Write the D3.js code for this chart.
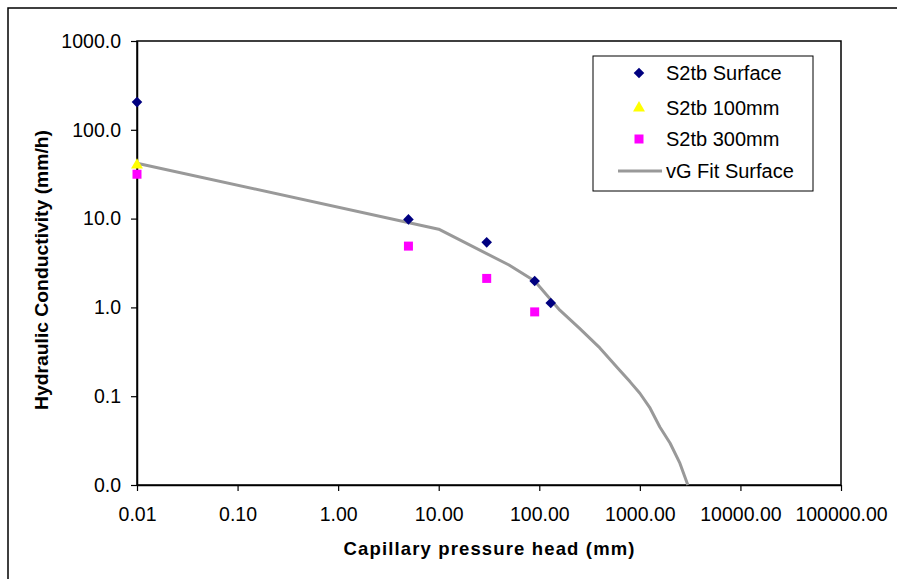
<!DOCTYPE html>
<html>
<head>
<meta charset="utf-8">
<script src="https://cdn.jsdelivr.net/npm/d3@7"></script>
<style>
body { margin: 0; background: #fff; }
svg { font-family: "Liberation Sans", Arial, sans-serif; }
</style>
</head>
<body>
<div id="chart"></div>
<script>
// measured points (head in mm, conductivity in mm/h)
var surfaceH = [0.01, 5, 30, 90, 130];
var surfaceK = [205, 9.8, 5.4, 1.98, 1.12];
var mm100H = [0.01];
var mm100K = [40];
var mm300H = [0.01, 5, 30, 90];
var mm300K = [31.6, 4.9, 2.12, 0.89];

// van Genuchten fit
var fitH = [0.01, 10, 50, 90, 160, 250, 400, 630, 800, 1000, 1250, 1580, 2000, 2500, 3000];
var fitK = [42, 7.6, 3.0, 1.98, 0.93, 0.585, 0.35, 0.196, 0.145, 0.108, 0.075, 0.045, 0.0295, 0.0176, 0.01];

var xTicks = [0.01, 0.1, 1, 10, 100, 1000, 10000, 100000];
var yTicks = [0.01, 0.1, 1, 10, 100, 1000];

var legendNames = ["S2tb Surface", "S2tb 100mm", "S2tb 300mm", "vG Fit Surface"];

var W = 897, H = 579;
var margins = { top: 41, right: 56, bottom: 94, left: 137 };
var width = W - margins.left - margins.right;
var height = H - margins.top - margins.bottom;

var svg = d3.select('#chart').append('svg')
  .attr('width', W)
  .attr('height', H);

// outer frame of the chart (only left/top visible in picture)
svg.append('rect')
  .attr('x', 8).attr('y', 8)
  .attr('width', 1000).attr('height', 1000)
  .attr('fill', 'none')
  .attr('stroke', '#000')
  .attr('stroke-width', 1.5);

var g = svg.append('g')
  .attr('transform', 'translate(' + margins.left + ',' + margins.top + ')');

var x = d3.scaleLog().domain([0.01, 100000]).range([0, width]);
var y = d3.scaleLog().domain([0.01, 1000]).range([height, 0]);

// plot area box
g.append('rect')
  .attr('width', width)
  .attr('height', height)
  .attr('fill', '#fff')
  .attr('stroke', '#000')
  .attr('stroke-width', 1.5);

var xaxis = g.append('g')
  .attr('transform', 'translate(0,' + height + ')')
  .call(d3.axisBottom(x).tickValues(xTicks).tickFormat(d3.format('.2f'))
    .tickSize(6).tickSizeOuter(0).tickPadding(16));

var yaxis = g.append('g')
  .call(d3.axisLeft(y).tickValues(yTicks).tickFormat(d3.format('.1f'))
    .tickSize(6).tickSizeOuter(0).tickPadding(10));

g.selectAll('.domain').attr('stroke', '#000').attr('stroke-width', 1.5);
g.selectAll('.tick line').attr('stroke', '#000').attr('stroke-width', 1.2);
g.selectAll('.tick text')
  .attr('fill', '#000')
  .style('font-size', '19.5px')
  .style('font-family', '"Liberation Sans", Arial, sans-serif');

// axis titles
svg.append('text')
  .attr('x', margins.left + width / 2)
  .attr('y', 555)
  .attr('text-anchor', 'middle')
  .attr('textLength', 291)
  .attr('lengthAdjust', 'spacing')
  .style('font-size', '18.5px')
  .style('font-weight', 'bold')
  .text('Capillary pressure head (mm)');

svg.append('text')
  .attr('transform', 'translate(48,270) rotate(-90)')
  .attr('text-anchor', 'middle')
  .attr('textLength', 280)
  .attr('lengthAdjust', 'spacingAndGlyphs')
  .style('font-size', '18.5px')
  .style('font-weight', 'bold')
  .text('Hydraulic Conductivity (mm/h)');

// fit line
var line = d3.line()
  .x(function (d) { return x(d[0]); })
  .y(function (d) { return y(d[1]); });

g.append('path')
  .datum(d3.zip(fitH, fitK))
  .attr('d', line)
  .attr('fill', 'none')
  .attr('stroke', '#999999')
  .attr('stroke-width', 3)
  .attr('stroke-linejoin', 'round');

var diamond = d3.symbol().type(d3.symbolSquare).size(56);
var triangle = d3.symbol().type(d3.symbolTriangle).size(62);
var square = d3.symbol().type(d3.symbolSquare).size(81);

function drawPoints(hs, ks, sym, color, rot) {
  g.selectAll(null)
    .data(d3.zip(hs, ks))
    .enter().append('path')
    .attr('d', sym)
    .attr('fill', color)
    .attr('transform', function (d) {
      return 'translate(' + x(d[0]) + ',' + y(d[1]) + ') rotate(' + rot + ')';
    });
}

drawPoints(mm300H, mm300K, square, '#ff00ff', 0);
drawPoints(mm100H, mm100K, triangle, '#ffff00', 0);
drawPoints(surfaceH, surfaceK, diamond, '#000080', 45);

// legend
var legend = svg.append('g').attr('transform', 'translate(593,56)');
legend.append('rect')
  .attr('width', 220).attr('height', 135)
  .attr('fill', '#fff')
  .attr('stroke', '#000')
  .attr('stroke-width', 1);

var rowY = [17, 52, 83, 115];
var syms = [diamond, triangle, square];
var cols = ['#000080', '#ffff00', '#ff00ff'];
var rots = [45, 0, 0];

legendNames.forEach(function (name, i) {
  if (i < 3) {
    legend.append('path')
      .attr('d', syms[i])
      .attr('fill', cols[i])
      .attr('transform', 'translate(46,' + rowY[i] + ') rotate(' + rots[i] + ')');
  } else {
    legend.append('line')
      .attr('x1', 25).attr('x2', 69)
      .attr('y1', rowY[i]).attr('y2', rowY[i])
      .attr('stroke', '#999999')
      .attr('stroke-width', 3);
  }
  legend.append('text')
    .attr('x', 73)
    .attr('y', rowY[i])
    .attr('dy', '0.35em')
    .style('font-size', '20px')
    .text(name);
});
</script>
</body>
</html>
